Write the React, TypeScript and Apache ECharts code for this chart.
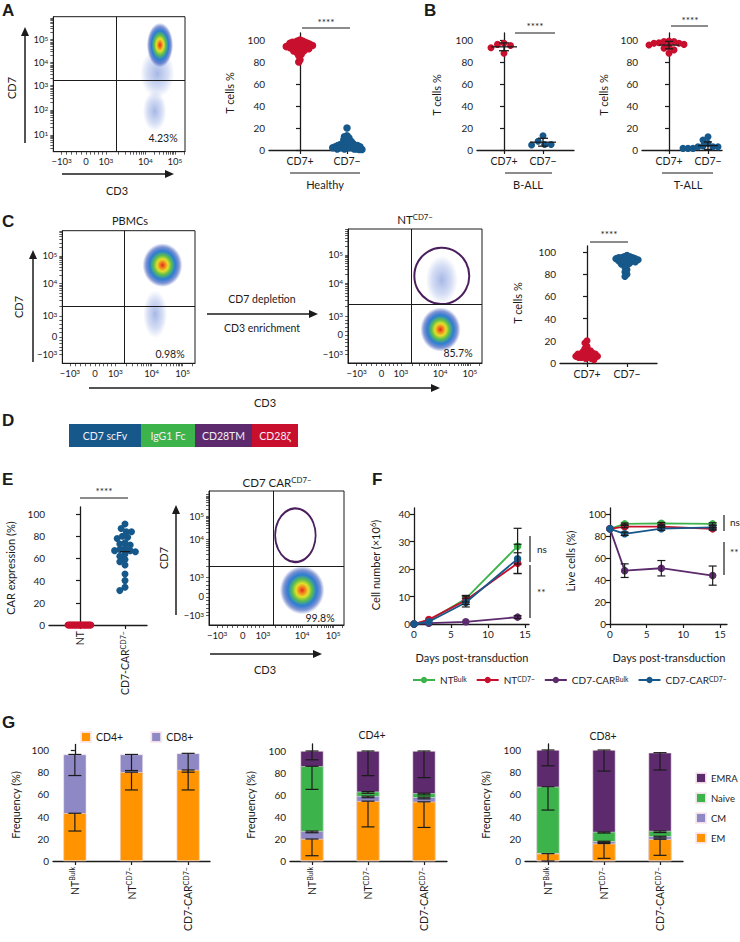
import React, { useEffect, useRef } from 'react';
import * as echarts from 'echarts';

const FONT = 'Lato, "Open Sans", "DejaVu Sans", sans-serif';
const LETTER_FONT = '"Liberation Sans", Arial, sans-serif';
const INK = '#1b1b1b';
const RED = '#c8102e';
const BLUE = '#17588a';
const GREEN = '#3cb44b';
const PURPLE = '#5c2a6d';
const LAV = '#8e88c4';
const ORANGE = '#ff9400';
const GATE = '#4b1f5e';

// ---------------- Data: dot plots (A, B, C, E) ----------------
const DOT_CATS = ['CD7+', 'CD7−'];
const A_CD7POS = [100, 99, 99, 98, 98, 98, 97, 97, 97, 96, 96, 96, 96, 95, 95, 95, 95, 94, 94, 94, 94, 93, 93, 93, 92, 92, 92, 91, 91, 90, 90, 89, 88, 87, 86, 82, 80];
const A_CD7NEG = [20, 13, 12, 11, 10, 9, 8, 8, 7, 6, 6, 5, 5, 5, 4, 4, 4, 4, 3, 3, 3, 3, 2, 2, 2, 2, 1, 1, 1, 1, 0.5, 0.5];
const B_BALL_CD7POS = [97, 96, 95, 93, 88];
const B_BALL_CD7NEG = [13, 8, 5, 5, 4.5];
const B_TALL_CD7POS = [99, 98.5, 98.5, 97.5, 97, 97, 96, 95.5, 94, 92.5, 91, 88];
const B_TALL_CD7NEG = [12, 9, 6, 3.6, 3, 3, 3, 1.5, 1.5, 1.5, 1.5, 1.5];
const C_CD7POS = [20, 18, 15, 13, 12, 11, 10, 10, 9, 9, 8, 8, 8, 7, 7, 7, 6, 6, 6, 5, 5, 5, 4, 4, 3];
const C_CD7NEG = [97, 96, 96, 95, 95, 95, 94, 94, 94, 93, 93, 93, 92, 92, 92, 91, 91, 90, 90, 89, 88, 86, 84, 82, 80, 78];
const E_CATS = ['NT', 'CD7-CAR^CD7−'];
const E_NT = [0, 0, 0, 0, 0, 0, 0, 0, 0, 0, 0, 0, 0, 0, 0, 0, 0, 0, 0, 0];
const E_CAR = [91, 87, 84, 84, 80, 79, 78, 74, 73, 72, 69, 68, 67, 67, 66, 64, 62, 59, 57, 54, 46, 40, 34, 31];
const PCT_TICKS = [0, 20, 40, 60, 80, 100];

// ---------------- Data: flow plots ----------------
const FLOW_X_LABELS = ['−10^3', '0', '10^3', '10^4', '10^5'];
const FLOW_Y_LABELS_A = ['10^1', '10^2', '10^3', '10^4', '10^5'];
const FLOW_Y_LABELS = ['−10^3', '0', '10^3', '10^4', '10^5'];
// tick positions on a 0-100 display (biexponential) scale
const A_FLOW_XPOS = [6.3, 24.8, 40, 70, 92.4];
const A_FLOW_YPOS = [12.5, 31, 49, 66, 83];
const C1_FLOW_XPOS = [5.8, 24.6, 40, 67.4, 90.7];
const C1_FLOW_YPOS = [7, 20, 35.7, 60.3, 81];
const C2_FLOW_XPOS = [6.5, 25, 39.5, 68.7, 91];
const C2_FLOW_YPOS = [6.7, 20.9, 35, 59.7, 80.6];
const E_FLOW_XPOS = [6, 25, 40, 69, 92];
const E_FLOW_YPOS = [7, 21, 35.5, 64, 81];
// quadrant gates [x, y]
const A_QUAD = [48, 53];
const C1_QUAD = [46.7, 43];
const C2_QUAD = [47, 44];
const E_QUAD = [47.4, 44];
// populations: centre and diameter in display units, dense or sparse
const A_POPS = [
  { x: 77, y: 30, sx: 18, sy: 30, dense: false },
  { x: 79, y: 58, sx: 26, sy: 36, dense: false },
  { x: 81, y: 79, sx: 20, sy: 33, dense: true },
];
const C1_POPS = [
  { x: 70, y: 37, sx: 18, sy: 36, dense: false },
  { x: 75.5, y: 74, sx: 30, sy: 33, dense: true },
];
const C2_POPS = [
  { x: 70, y: 62, sx: 24, sy: 36, dense: false },
  { x: 69, y: 25, sx: 30, sy: 33, dense: true },
];
const E_POPS = [{ x: 69, y: 26, sx: 33, sy: 36, dense: true }];
const C2_GATE = { x: 70, y: 65, sx: 41, sy: 42 };
const E_GATE = { x: 64, y: 67, sx: 30, sy: 40 };

// ---------------- Data: F ----------------
const F_DAYS = [0, 2, 7, 14];
const F_NAMES = ['NT^Bulk', 'NT^CD7−', 'CD7-CAR^Bulk', 'CD7-CAR^CD7−'];
const F_COLORS = [GREEN, RED, PURPLE, BLUE];
const F_NUM_NTBULK = [0, 1.3, 9.2, 28.3];
const F_NUM_NTNEG = [0, 1.6, 8.6, 22.1];
const F_NUM_CARBULK = [0, 0.3, 0.8, 2.5];
const F_NUM_CARNEG = [0, 0.8, 7.8, 23.7];
const F_NUM_SD_NTBULK = [0, 0.2, 1.2, 6.5];
const F_NUM_SD_NTNEG = [0, 0.2, 1.5, 3.8];
const F_NUM_SD_CARBULK = [0, 0.1, 0.3, 0.5];
const F_NUM_SD_CARNEG = [0, 0.2, 1.6, 5.3];
const F_LIVE_NTBULK = [86.5, 91, 91.5, 91];
const F_LIVE_NTNEG = [86.5, 88.5, 88.5, 86.5];
const F_LIVE_CARBULK = [86.5, 48.5, 50.7, 44];
const F_LIVE_CARNEG = [86.5, 82, 86.7, 87.8];
const F_LIVE_SD_NTBULK = [0, 0.8, 0.8, 1];
const F_LIVE_SD_NTNEG = [0, 1, 1, 1.2];
const F_LIVE_SD_CARBULK = [0, 6.2, 7, 8.7];
const F_LIVE_SD_CARNEG = [0, 1.5, 1.5, 1.5];
const F_X_TICKS = [0, 5, 10, 15];
const F_NUM_TICKS = [0, 10, 20, 30, 40];

// ---------------- Data: G ----------------
const G_CATS = ['NT^Bulk', 'NT^CD7−', 'CD7-CAR^CD7−'];
const G_CD4 = [43, 80, 82];
const G_CD8 = [53, 16, 15];
const G_CD4_SD = [16, 16, 18];
const G_CD8_SD = [19, 14.5, 17];
const G4_EM = [20, 54.4, 53.8];
const G4_CM = [7.2, 4.6, 4.2];
const G4_NAIVE = [58.9, 4.1, 3.6];
const G4_EMRA = [13.9, 36.9, 38.4];
const G4_EM_SD = [15.2, 23.4, 23.3];
const G4_CM_SD = [1.5, 1.5, 1.5];
const G4_NAIVE_SD = [21, 1.5, 1.5];
const G4_EMRA_SD = [8, 22.4, 24.2];
const G8_EM = [6.6, 15.7, 19.6];
const G8_CM = [0.5, 2.1, 2.7];
const G8_NAIVE = [59.8, 8.4, 4.8];
const G8_EMRA = [33.1, 73.8, 70.5];
const G8_EM_SD = [6.6, 13.3, 14.5];
const G8_CM_SD = [0.5, 1, 1.5];
const G8_NAIVE_SD = [21, 1, 1.5];
const G8_EMRA_SD = [14.2, 19, 15.6];

// ---------------- helpers ----------------
function rich(t: string) {
  const re = /\^([^\s)]+)/g;
  let out = '';
  let last = 0;
  let m: RegExpExecArray | null;
  while ((m = re.exec(t))) {
    if (m.index > last) out += `{b|${t.slice(last, m.index)}}`;
    out += `{s|${m[1]}}`;
    last = m.index + m[0].length;
  }
  if (last < t.length) out += `{b|${t.slice(last)}}`;
  return out;
}
function richStyles(size: number, color = INK) {
  return {
    b: { fontSize: size, fontFamily: FONT, color, fill: color },
    s: { fontSize: Math.round(size * 0.68 * 10) / 10, fontFamily: FONT, color, fill: color, verticalAlign: 'top' },
  };
}
function swarm(values: number[], center: number, dx: number, dy: number) {
  const placed: number[][] = [];
  const out: number[][] = new Array(values.length);
  const order = values.map((_, i) => i).sort((a, b) => values[b] - values[a]);
  for (const i of order) {
    const y = values[i];
    let x = center;
    for (let k = 0; k < 400; k++) {
      const off = (k % 2 === 0 ? 1 : -1) * Math.ceil(k / 2) * 0.25 * dx;
      const cx = center + off;
      const ok = placed.every(([px, py]) => {
        const a = (px - cx) / dx;
        const b = (py - y) / dy;
        return a * a + b * b >= 0.999;
      });
      if (ok) { x = cx; break; }
    }
    placed.push([x, y]);
    out[i] = [x, y];
  }
  return out;
}
function stats(v: number[]) {
  const m = v.reduce((a, b) => a + b, 0) / v.length;
  const sd = Math.sqrt(v.reduce((a, b) => a + (b - m) * (b - m), 0) / Math.max(1, v.length - 1));
  return [m, sd];
}
function minors(pos: number[], lin: number) {
  const out: number[] = [];
  for (let i = 0; i < pos.length - 1; i++) {
    const a = pos[i], b = pos[i + 1];
    if (i < lin) { for (let k = 1; k < 5; k++) out.push(a + ((b - a) * k) / 5); }
    else { for (let m = 2; m < 10; m++) out.push(a + (b - a) * Math.log10(m)); }
  }
  const n = pos.length;
  const d = pos[n - 1] - pos[n - 2];
  for (let m = 2; m < 10; m++) { const v = pos[n - 1] + d * Math.log10(m); if (v < 100) out.push(v); }
  if (lin === 0) {
    const d0 = pos[1] - pos[0];
    for (let m = 2; m < 10; m++) { const v = pos[0] - d0 + d0 * Math.log10(m); if (v > 0) out.push(v); }
  }
  return out;
}

const DENSE = {
  type: 'radial', x: 0.5, y: 0.5, r: 0.5,
  colorStops: [
    { offset: 0, color: '#e3281f' },
    { offset: 0.14, color: '#f0861d' },
    { offset: 0.28, color: '#e6df2a' },
    { offset: 0.44, color: '#5fbf4c' },
    { offset: 0.64, color: '#2a7fd4' },
    { offset: 0.84, color: 'rgba(35,70,180,0.55)' },
    { offset: 1, color: 'rgba(35,70,180,0)' },
  ],
};
const SPARSE = {
  type: 'radial', x: 0.5, y: 0.5, r: 0.5,
  colorStops: [
    { offset: 0, color: 'rgba(45,85,195,0.42)' },
    { offset: 0.6, color: 'rgba(60,100,205,0.22)' },
    { offset: 1, color: 'rgba(60,100,205,0)' },
  ],
};

function buildOption() {
  const grids: any[] = [];
  const xAxes: any[] = [];
  const yAxes: any[] = [];
  const series: any[] = [];
  const g: any[] = [];
  const lab = (size = 10) => ({ color: INK, fontSize: size, fontFamily: FONT });
  const axLine = { show: true, lineStyle: { color: INK, width: 1.3 } };

  const addGrid = (l: number, t: number, r: number, b: number, extra: any = {}) => {
    grids.push({ left: l, top: t, width: r - l, height: b - t, containLabel: false, ...extra });
    return grids.length - 1;
  };
  const yVal = (gi: number, max: number, ticks: number[]) => {
    yAxes.push({
      type: 'value', gridIndex: gi, min: 0, max, splitLine: { show: false }, axisLine: axLine,
      axisTick: { show: true, length: 4, customValues: ticks, lineStyle: { color: INK, width: 1.2 } },
      axisLabel: { customValues: ticks, margin: 4, ...lab(10) },
    });
    return yAxes.length - 1;
  };
  const xNum = (gi: number, min: number, max: number, ticks: number[]) => {
    xAxes.push({
      type: 'value', gridIndex: gi, min, max, splitLine: { show: false }, axisLine: axLine,
      axisTick: { show: true, length: 4, customValues: ticks, lineStyle: { color: INK, width: 1.2 } },
      axisLabel: { customValues: ticks, margin: 5, ...lab(10) },
    });
    return xAxes.length - 1;
  };
  const xCat = (gi: number, min: number, max: number, cats: string[], rotate = 0) => {
    const vals = cats.map((_, i) => i);
    xAxes.push({
      type: 'value', gridIndex: gi, min, max, splitLine: { show: false }, axisLine: axLine,
      axisTick: { show: true, length: 4, customValues: vals, lineStyle: { color: INK, width: 1.2 } },
      axisLabel: {
        customValues: vals, rotate, margin: rotate ? 6 : 5, ...lab(10.5),
        formatter: (v: number) => rich(cats[Math.round(v)] ?? ''), rich: richStyles(10.5),
      },
    });
    return xAxes.length - 1;
  };
  const errSeries = (xi: number, yi: number, data: number[][], cap: number, z = 6) => {
    series.push({
      type: 'custom', xAxisIndex: xi, yAxisIndex: yi, silent: true, z, data, encode: { x: 0, y: [1, 2] },
      renderItem: (_p: any, api: any) => {
        const x = api.value(0);
        const lo = api.coord([x, api.value(1)]);
        const hi = api.coord([x, api.value(2)]);
        const st = { stroke: INK, lineWidth: 1.2 };
        return {
          type: 'group', children: [
            { type: 'line', shape: { x1: lo[0], y1: lo[1], x2: hi[0], y2: hi[1] }, style: st },
            { type: 'line', shape: { x1: lo[0] - cap, y1: lo[1], x2: lo[0] + cap, y2: lo[1] }, style: st },
            { type: 'line', shape: { x1: hi[0] - cap, y1: hi[1], x2: hi[0] + cap, y2: hi[1] }, style: st },
          ],
        };
      },
    });
  };
  const meanSd = (xi: number, yi: number, data: number[][], half: number, cap: number) => {
    series.push({
      type: 'custom', xAxisIndex: xi, yAxisIndex: yi, silent: true, z: 6, data, encode: { x: 0, y: 1 },
      renderItem: (_p: any, api: any) => {
        const x = api.value(0), m = api.value(1), s = api.value(2);
        const pm = api.coord([x, m]);
        const st = { stroke: INK, lineWidth: 1.3 };
        const ch: any[] = [{ type: 'line', shape: { x1: pm[0] - half, y1: pm[1], x2: pm[0] + half, y2: pm[1] }, style: st }];
        if (s > 0) {
          const lo = api.coord([x, m - s]);
          const hi = api.coord([x, m + s]);
          ch.push(
            { type: 'line', shape: { x1: lo[0], y1: lo[1], x2: hi[0], y2: hi[1] }, style: st },
            { type: 'line', shape: { x1: lo[0] - cap, y1: lo[1], x2: lo[0] + cap, y2: lo[1] }, style: st },
            { type: 'line', shape: { x1: hi[0] - cap, y1: hi[1], x2: hi[0] + cap, y2: hi[1] }, style: st },
          );
        }
        return { type: 'group', children: ch };
      },
    });
  };

  // ---- dot plots ----
  const addDot = (o: any) => {
    const gi = addGrid(o.l, o.t, o.r, o.b);
    const ppx = o.c[1] - o.c[0];
    const ppy = (o.b - o.y100) / 100;
    const xi = xCat(gi, -(o.c[0] - o.l) / ppx, 1 + (o.r - o.c[1]) / ppx, o.cats, o.rotate || 0);
    const yi = yVal(gi, (o.b - o.t) / ppy, PCT_TICKS);
    o.groups.forEach((grp: any, k: number) => {
      series.push({
        type: 'scatter', xAxisIndex: xi, yAxisIndex: yi, silent: true, z: 3, symbolSize: o.size,
        itemStyle: { color: grp.color, opacity: 1 },
        data: swarm(grp.vals, k, grp.sep / ppx, grp.sep / ppy),
      });
    });
    return { xi, yi };
  };

  addDot({ l: 269, r: 362, t: 33, b: 150, y100: 40, c: [300, 347], cats: DOT_CATS, size: 7.5,
    groups: [{ vals: A_CD7POS, color: RED, sep: 2.5 }, { vals: A_CD7NEG, color: BLUE, sep: 2.6 }] });
  const bl = addDot({ l: 477, r: 574, t: 33, b: 150, y100: 40, c: [504, 543], cats: DOT_CATS, size: 7,
    groups: [{ vals: B_BALL_CD7POS, color: RED, sep: 6.5 }, { vals: B_BALL_CD7NEG, color: BLUE, sep: 6.5 }] });
  meanSd(bl.xi, bl.yi, [[0, ...stats(B_BALL_CD7POS)], [1, ...stats(B_BALL_CD7NEG)]], 13, 5);
  const br = addDot({ l: 642, r: 722, t: 33, b: 150, y100: 40, c: [669, 708], cats: DOT_CATS, size: 7,
    groups: [{ vals: B_TALL_CD7POS, color: RED, sep: 5 }, { vals: B_TALL_CD7NEG, color: BLUE, sep: 5 }] });
  meanSd(br.xi, br.yi, [[0, ...stats(B_TALL_CD7POS)], [1, ...stats(B_TALL_CD7NEG)]], 10, 4);
  addDot({ l: 560, r: 657, t: 246, b: 363, y100: 252, c: [587, 627], cats: DOT_CATS, size: 7,
    groups: [{ vals: C_CD7POS, color: RED, sep: 2.8 }, { vals: C_CD7NEG, color: BLUE, sep: 2.8 }] });
  const e = addDot({ l: 49, r: 147, t: 507, b: 625, y100: 514, c: [80, 125], cats: E_CATS, size: 7, rotate: 90,
    groups: [{ vals: E_NT, color: RED, sep: 1.2 }, { vals: E_CAR, color: BLUE, sep: 5.2 }] });
  meanSd(e.xi, e.yi, [[1, stats(E_CAR)[0], 0]], 5, 0);

  // ---- flow plots ----
  const addFlow = (f: any) => {
    const [l, t, r, b] = f.box;
    const gi = addGrid(l, t, r, b, { show: true, borderColor: INK, borderWidth: 1, backgroundColor: 'rgba(0,0,0,0)' });
    const mk = (pos: number[], labels: string[], lin: number) => ({
      type: 'value', gridIndex: gi, min: 0, max: 100, splitLine: { show: false },
      axisLine: { show: true, lineStyle: { color: INK, width: 1 } },
      axisTick: { show: true, length: 3, customValues: [...pos, ...minors(pos, lin)], lineStyle: { color: INK, width: 0.7 } },
      axisLabel: {
        customValues: pos, margin: 5, ...lab(9.5),
        formatter: (v: number) => { const i = pos.findIndex((p) => Math.abs(p - v) < 1e-6); return i < 0 ? '' : rich(labels[i]); },
        rich: richStyles(9.5),
      },
    });
    xAxes.push(mk(f.xPos, FLOW_X_LABELS, 2));
    const xi = xAxes.length - 1;
    yAxes.push(mk(f.yPos, f.yLabels, f.yLin));
    const yi = yAxes.length - 1;
    const w = r - l, h = b - t;
    const pops = [...f.pops].sort((p: any, q: any) => Number(p.dense) - Number(q.dense));
    series.push({
      type: 'scatter', xAxisIndex: xi, yAxisIndex: yi, silent: true, z: 2,
      data: pops.map((p: any) => ({
        value: [p.x, p.y], symbolSize: [(p.sx / 100) * w, (p.sy / 100) * h],
        itemStyle: { color: p.dense ? DENSE : SPARSE, opacity: 1 },
      })),
      markLine: {
        silent: true, symbol: 'none', label: { show: false }, animation: false,
        lineStyle: { color: INK, width: 1, type: 'solid' },
        data: [{ xAxis: f.quad[0] }, { yAxis: f.quad[1] }],
      },
    });
    if (f.gate) {
      series.push({
        type: 'scatter', xAxisIndex: xi, yAxisIndex: yi, silent: true, z: 4,
        data: [{ value: [f.gate.x, f.gate.y], symbolSize: [(f.gate.sx / 100) * w, (f.gate.sy / 100) * h] }],
        itemStyle: { color: 'rgba(0,0,0,0)', borderColor: GATE, borderWidth: 2, opacity: 1 },
      });
    }
  };
  addFlow({ box: [53.3, 16.7, 185, 151.7], xPos: A_FLOW_XPOS, yPos: A_FLOW_YPOS, yLabels: FLOW_Y_LABELS_A, yLin: 0, quad: A_QUAD, pops: A_POPS });
  addFlow({ box: [62.3, 230.7, 195, 363.3], xPos: C1_FLOW_XPOS, yPos: C1_FLOW_YPOS, yLabels: FLOW_Y_LABELS, yLin: 2, quad: C1_QUAD, pops: C1_POPS });
  addFlow({ box: [348, 229, 482, 363], xPos: C2_FLOW_XPOS, yPos: C2_FLOW_YPOS, yLabels: FLOW_Y_LABELS, yLin: 2, quad: C2_QUAD, pops: C2_POPS, gate: C2_GATE });
  addFlow({ box: [209, 491, 344, 625], xPos: E_FLOW_XPOS, yPos: E_FLOW_YPOS, yLabels: FLOW_Y_LABELS, yLin: 2, quad: E_QUAD, pops: E_POPS, gate: E_GATE });

  // ---- F line charts ----
  const fNum = [F_NUM_NTBULK, F_NUM_NTNEG, F_NUM_CARBULK, F_NUM_CARNEG];
  const fNumSd = [F_NUM_SD_NTBULK, F_NUM_SD_NTNEG, F_NUM_SD_CARBULK, F_NUM_SD_CARNEG];
  const fLive = [F_LIVE_NTBULK, F_LIVE_NTNEG, F_LIVE_CARBULK, F_LIVE_CARNEG];
  const fLiveSd = [F_LIVE_SD_NTBULK, F_LIVE_SD_NTNEG, F_LIVE_SD_CARBULK, F_LIVE_SD_CARNEG];
  const addLine = (o: any) => {
    const gi = addGrid(o.l, o.t, o.r, o.b);
    const xi = xNum(gi, 0, (o.r - o.l) / ((o.x15 - o.l) / 15), F_X_TICKS);
    const ppy = (o.b - o.yTopPx) / o.yTopVal;
    const yi = yVal(gi, (o.b - o.t) / ppy, o.yTicks);
    const errs: number[][] = [];
    F_NAMES.forEach((name, k) => {
      series.push({
        type: 'line', name, xAxisIndex: xi, yAxisIndex: yi, silent: true, z: 3 + k * 0.1,
        data: F_DAYS.map((d, i) => [d, o.vals[k][i]]),
        symbol: 'circle', symbolSize: 7.5, showSymbol: true,
        lineStyle: { color: F_COLORS[k], width: 1.8 }, itemStyle: { color: F_COLORS[k] },
      });
      F_DAYS.forEach((d, i) => { const s = o.sds[k][i]; if (s > 0.4) errs.push([d, o.vals[k][i] - s, o.vals[k][i] + s]); });
    });
    errSeries(xi, yi, errs, 4, 8);
  };
  addLine({ l: 414, r: 529, t: 508, b: 624, x15: 525, yTopPx: 514, yTopVal: 40, yTicks: F_NUM_TICKS, vals: fNum, sds: fNumSd });
  addLine({ l: 610, r: 727, t: 508, b: 624, x15: 720, yTopPx: 514, yTopVal: 100, yTicks: PCT_TICKS, vals: fLive, sds: fLiveSd });

  // ---- G stacked bars (segments drawn as overlapping cumulative bars, top segment first) ----
  const addBars = (o: any) => {
    const gi = addGrid(o.l, o.t, o.r, o.b);
    const sp = o.c[1] - o.c[0];
    const ppy = (o.b - o.y100) / 100;
    const xi = xCat(gi, -(o.c[0] - o.l) / sp, 2 + (o.r - o.c[2]) / sp, G_CATS, 90);
    const yi = yVal(gi, (o.b - o.t) / ppy, PCT_TICKS);
    const cum = G_CATS.map(() => 0);
    const errs: number[][] = [];
    const tops: number[][] = [];
    o.segs.forEach((s: any) => {
      const top = s.vals.map((v: number, i: number) => { cum[i] += v; return cum[i]; });
      tops.push(top);
      s.vals.forEach((_v: number, i: number) => { if (s.sd[i] > 0.9) errs.push([i, top[i] - s.sd[i], top[i]]); });
    });
    for (let k = o.segs.length - 1; k >= 0; k--) {
      const s = o.segs[k];
      series.push({
        type: 'bar', name: s.name, xAxisIndex: xi, yAxisIndex: yi, barWidth: 23, barGap: '-100%', silent: true,
        z: 2, itemStyle: { color: s.color, borderColor: 'rgba(250,232,240,0.9)', borderWidth: 0.6 },
        data: tops[k].map((v: number, i: number) => [i, v]),
      });
    }
    errSeries(xi, yi, errs, 6.5, 6);
  };
  addBars({ l: 53, r: 210, t: 744.5, b: 861, y100: 750, c: [75, 132, 188],
    segs: [{ name: 'CD4+', color: ORANGE, vals: G_CD4, sd: G_CD4_SD }, { name: 'CD8+', color: LAV, vals: G_CD8, sd: G_CD8_SD }] });
  addBars({ l: 290, r: 447, t: 744, b: 861, y100: 751, c: [312, 368, 424],
    segs: [
      { name: 'EM', color: ORANGE, vals: G4_EM, sd: G4_EM_SD },
      { name: 'CM', color: LAV, vals: G4_CM, sd: G4_CM_SD },
      { name: 'Naive', color: GREEN, vals: G4_NAIVE, sd: G4_NAIVE_SD },
      { name: 'EMRA', color: PURPLE, vals: G4_EMRA, sd: G4_EMRA_SD },
    ] });
  addBars({ l: 525, r: 683, t: 744, b: 861, y100: 750, c: [548, 604, 660],
    segs: [
      { name: 'EM', color: ORANGE, vals: G8_EM, sd: G8_EM_SD },
      { name: 'CM', color: LAV, vals: G8_CM, sd: G8_CM_SD },
      { name: 'Naive', color: GREEN, vals: G8_NAIVE, sd: G8_NAIVE_SD },
      { name: 'EMRA', color: PURPLE, vals: G8_EMRA, sd: G8_EMRA_SD },
    ] });

  // ---- annotations ----
  const T = (x: number, y: number, text: string, o: any = {}) => {
    const size = o.size ?? 10.5;
    const color = o.color ?? INK;
    g.push({
      type: 'text', x, y, rotation: o.rot ? Math.PI / 2 : 0, silent: true, z: 50,
      style: {
        text: o.plain ? text : rich(text), rich: richStyles(size, color), fill: color,
        fontSize: size, fontFamily: o.font ?? FONT, fontWeight: o.bold ? 'bold' : 'normal',
        align: o.align ?? 'center', textAlign: o.align ?? 'center',
        verticalAlign: o.va ?? 'middle', textVerticalAlign: o.va ?? 'middle',
      },
    });
  };
  const L = (x1: number, y1: number, x2: number, y2: number, w = 1.2) =>
    g.push({ type: 'line', silent: true, z: 50, shape: { x1, y1, x2, y2 }, style: { stroke: INK, lineWidth: w } });
  const up = (x: number, yb: number, tip: number) => {
    L(x, yb, x, tip + 6, 1.5);
    g.push({ type: 'polygon', silent: true, z: 50, shape: { points: [[x, tip], [x - 4, tip + 9], [x + 4, tip + 9]] }, style: { fill: INK } });
  };
  const right = (x0: number, y: number, tip: number) => {
    L(x0, y, tip - 6, y, 1.5);
    g.push({ type: 'polygon', silent: true, z: 50, shape: { points: [[tip, y], [tip - 9, y - 4], [tip - 9, y + 4]] }, style: { fill: INK } });
  };
  const letter = (x: number, y: number, s: string) => T(x, y, s, { plain: true, bold: true, size: 17, font: LETTER_FONT, align: 'left', va: 'top' });

  // A
  letter(2, 2, 'A');
  up(25, 143, 27);
  T(11, 88, 'CD7', { rot: true, size: 11 });
  right(62, 174, 174);
  T(117, 190, 'CD3', { size: 11 });
  T(163, 138, '4.23%');
  T(229, 93, 'T cells %', { rot: true, size: 11 });
  T(326, 22, '****', { size: 10 });
  L(302, 28, 350, 28);
  L(290, 173, 360, 173);
  T(325, 184, 'Healthy', { size: 11 });
  // B
  letter(424, 2, 'B');
  T(436, 95, 'T cells %', { rot: true, size: 11 });
  T(535, 26, '****', { size: 10 });
  L(515, 33, 555, 33);
  L(505, 173, 552, 173);
  T(528, 184, 'B-ALL', { size: 11 });
  T(603, 95, 'T cells %', { rot: true, size: 11 });
  T(690, 20, '****', { size: 10 });
  L(671, 26, 708, 26);
  L(662, 173, 713, 173);
  T(688, 184, 'T-ALL', { size: 11 });
  // C
  letter(2, 213, 'C');
  T(130, 220, 'PBMCs', { size: 11 });
  up(33, 362, 250);
  T(18, 307, 'CD7', { rot: true, size: 11 });
  right(207, 314, 318);
  T(262, 299, 'CD7 depletion');
  T(262, 328, 'CD3 enrichment');
  T(415, 219, 'NT^CD7−', { size: 11.5 });
  right(89, 388, 440);
  T(265, 402, 'CD3', { size: 11 });
  T(170, 354, '0.98%');
  T(458, 353, '85.7%');
  T(517, 303, 'T cells %', { rot: true, size: 11 });
  T(609, 234, '****', { size: 10 });
  L(590, 242, 628, 242);
  // D
  letter(2, 412, 'D');
  const dSegs = [
    { x: 69, w: 72, c: BLUE, t: 'CD7 scFv' },
    { x: 141, w: 54, c: GREEN, t: 'IgG1 Fc' },
    { x: 195, w: 57, c: PURPLE, t: 'CD28TM' },
    { x: 252, w: 46, c: RED, t: 'CD28ζ' },
  ];
  dSegs.forEach((s) => {
    g.push({ type: 'rect', silent: true, z: 40, shape: { x: s.x, y: 424, width: s.w, height: 23 }, style: { fill: s.c } });
    T(s.x + s.w / 2, 435.5, s.t, { size: 10.5, color: '#f3eef5' });
  });
  // E
  letter(2, 471, 'E');
  T(10, 568, 'CAR expression (%)', { rot: true, size: 11 });
  T(104, 491, '****', { size: 10 });
  L(80, 498, 128, 498);
  T(277, 482, 'CD7 CAR^CD7−', { size: 11.5 });
  up(176, 615, 505);
  T(163, 558, 'CD7', { rot: true, size: 11 });
  right(210, 654, 322);
  T(265, 669, 'CD3', { size: 11 });
  T(320, 618, '99.8%');
  // F
  letter(372, 471, 'F');
  T(375, 565, 'Cell number (×10^6)', { rot: true, size: 11 });
  T(570, 561, 'Live cells (%)', { rot: true, size: 11 });
  L(530, 536, 530, 562);
  T(537, 549, 'ns', { align: 'left', size: 10 });
  L(530, 565, 530, 618);
  T(537, 592, '**', { align: 'left', size: 10 });
  L(724, 515, 724, 531);
  T(730, 522, 'ns', { align: 'left', size: 10 });
  L(724, 542, 724, 575);
  T(730, 552, '**', { align: 'left', size: 10 });
  T(472, 657, 'Days post-transduction', { size: 11 });
  T(669, 657, 'Days post-transduction', { size: 11 });
  // G
  letter(2, 714, 'G');
  T(15, 805, 'Frequency (%)', { rot: true, size: 11 });
  T(250, 805, 'Frequency (%)', { rot: true, size: 11 });
  T(485, 805, 'Frequency (%)', { rot: true, size: 11 });
  T(372, 735, 'CD4+', { size: 10.5 });
  T(603, 736, 'CD8+', { size: 10.5 });

  return {
    animation: false,
    backgroundColor: '#ffffff',
    textStyle: { fontFamily: FONT },
    grid: grids,
    xAxis: xAxes,
    yAxis: yAxes,
    series,
    graphic: { elements: g },
    legend: [
      {
        data: F_NAMES, left: 412, top: 675, padding: 0, itemWidth: 22, itemHeight: 8, itemGap: 9, selectedMode: false,
        formatter: (n: string) => rich(n), textStyle: { ...lab(10), rich: richStyles(10) },
      },
      {
        data: ['CD4+', 'CD8+'], left: 80, top: 731, padding: 0, icon: 'rect', itemWidth: 10, itemHeight: 10, itemGap: 27,
        selectedMode: false, textStyle: lab(10.5),
      },
      {
        data: ['EMRA', 'Naive', 'CM', 'EM'], left: 695, top: 772, padding: 0, orient: 'vertical', icon: 'rect',
        itemWidth: 10, itemHeight: 10, itemGap: 8, selectedMode: false, textStyle: lab(9.5),
      },
    ],
  };
}

export default function App() {
  const ref = useRef<HTMLDivElement>(null);
  useEffect(() => {
    if (!ref.current) return;
    const chart = echarts.init(ref.current, null, { renderer: 'svg' });
    chart.setOption(buildOption() as any);
    return () => chart.dispose();
  }, []);
  return (
    <div
      ref={ref}
      style={{ position: 'absolute', left: 0, top: 0, width: 740, height: 942, background: '#fff' }}
    />
  );
}
